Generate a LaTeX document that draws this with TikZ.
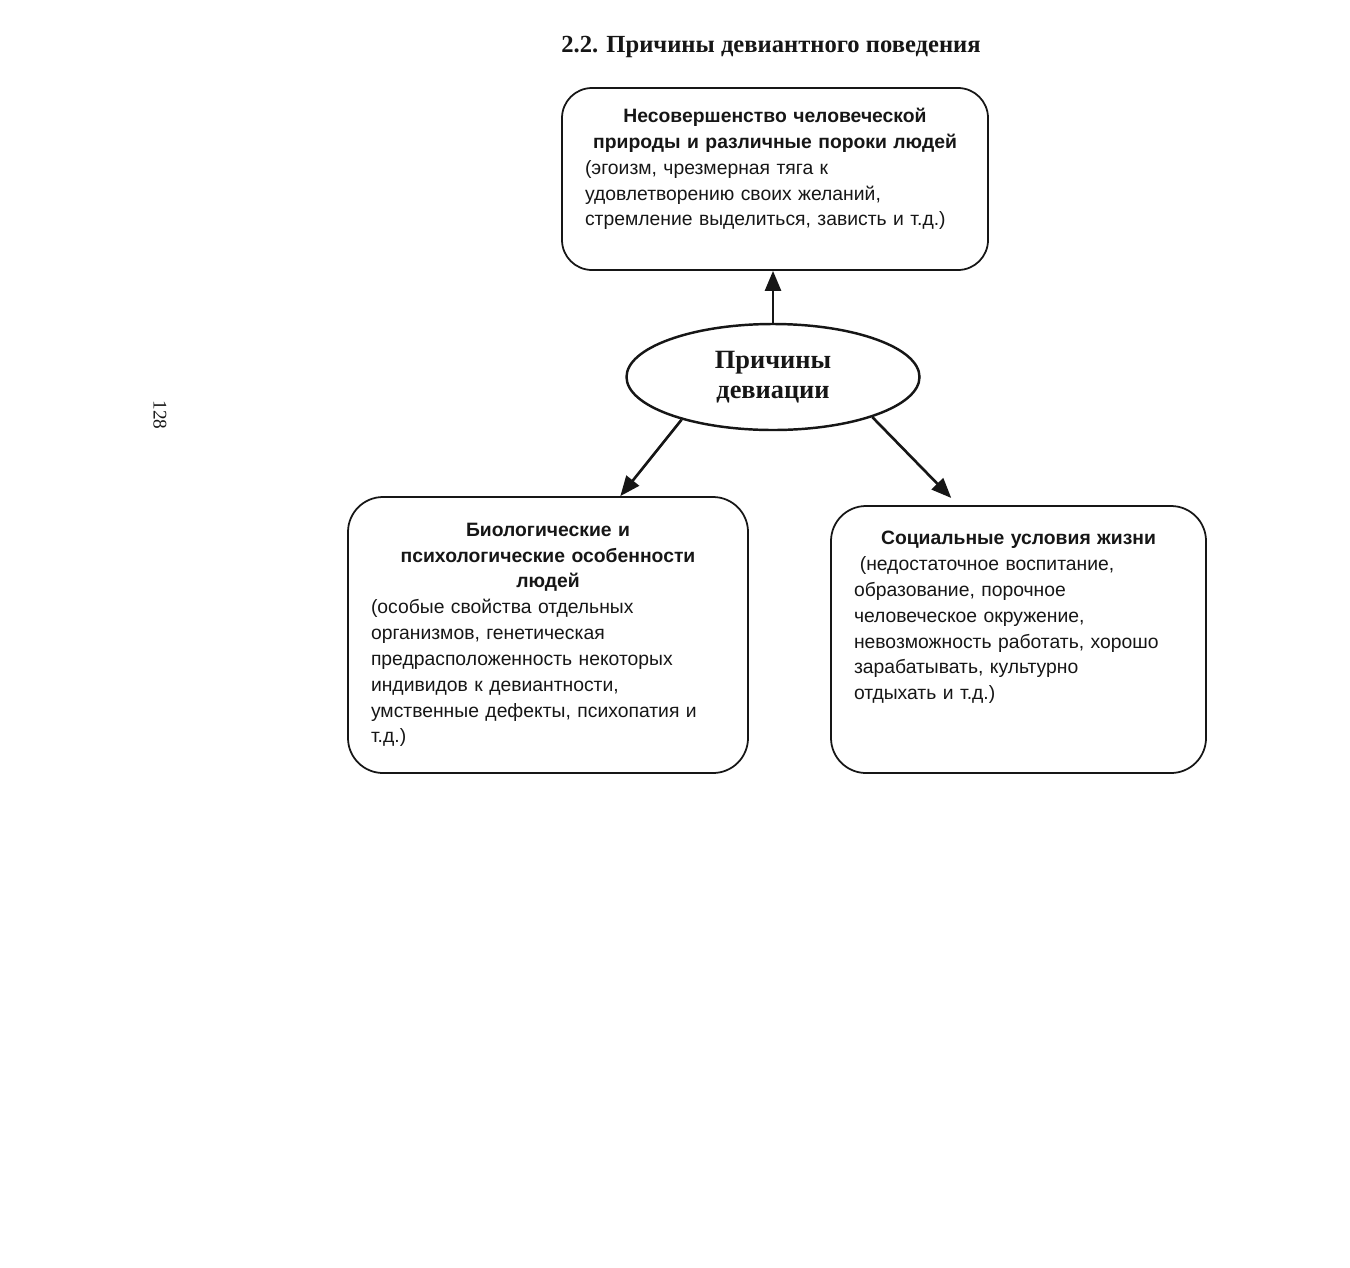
\documentclass[tikz,border=0pt]{standalone}
\usepackage{fontspec}
\setmainfont{Liberation Serif}
\setsansfont{Liberation Sans}
\usetikzlibrary{arrows.meta,calc,shapes.geometric}
\definecolor{ink}{HTML}{161616}
\tikzset{
  causebox/.style={draw=ink,line width=1pt,rounded corners=0.7cm,align=left,
    inner xsep=0.46cm,inner ysep=0pt,text=ink,
    font=\sffamily\fontsize{11}{14.7}\selectfont},
  rootnode/.style={draw=ink,line width=1.4pt,ellipse,inner sep=0pt,align=center,
    minimum width=5.86cm,minimum height=2.12cm,text=ink,
    font=\bfseries\fontsize{15}{17}\selectfont},
  arrow/.style={-{Triangle[length=4mm,width=3.2mm]},draw=ink,line width=1.5pt}
}

\begin{document}
\begin{tikzpicture}
  \useasboundingbox (0,0) rectangle (27,-25.34);
  \node[font=\bfseries\fontsize{14}{16}\selectfont,text=ink] (title) at (15.42,-0.94)
    {2.2. Причины девиантного поведения};
  \node[font=\fontsize{11}{13}\selectfont,rotate=-90,text=ink] (page) at (3.2,-8.3) {128};
  \node[causebox,rounded corners=0.6cm,text width=7.6cm,minimum height=3.64cm] (nature) at (15.5,-3.58)
    {{\centering\bfseries Несовершенство человеческой\\природы и различные пороки людей\par}
     (эгоизм, чрезмерная тяга к\\удовлетворению своих желаний,\\стремление выделиться, зависть и т.д.)\par\vspace*{0.4cm}};
  \node[rootnode] (cause) at (15.46,-7.54) {Причины\\девиации};
  \node[causebox,text width=7.08cm,minimum height=5.52cm] (bio) at (10.96,-12.70)
    {{\centering\bfseries Биологические и\\психологические особенности\\людей\par}
     (особые свойства отдельных\\организмов, генетическая\\предрасположенность некоторых\\индивидов к девиантности,\\умственные дефекты, психопатия и\\т.д.)};
  \node[causebox,text width=6.58cm,minimum height=5.34cm] (social) at (20.37,-12.79)
    {{\centering\bfseries Социальные условия жизни\par}
     \hspace{0.3em}(недостаточное воспитание,\\образование, порочное\\человеческое окружение,\\невозможность работать, хорошо\\зарабатывать, культурно\\отдыхать и т.д.)\par\vspace*{0.88cm}};
  \draw[arrow] (cause.north) -- (cause.north |- nature.south);
  \draw[arrow] (cause.205) -- ($(bio.north west)!0.68!(bio.north east)$);
  \draw[arrow,shorten >=0.2cm] (cause.338) -- ($(social.north west)!0.34!(social.north east)$);
\end{tikzpicture}
\end{document}
